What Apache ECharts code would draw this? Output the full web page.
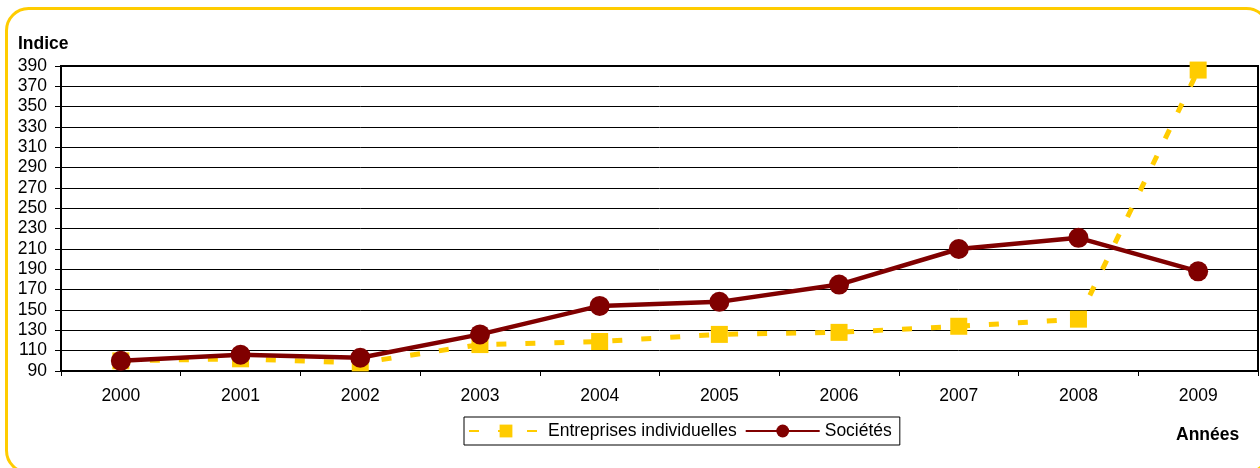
<!DOCTYPE html>
<html>
<head>
<meta charset="utf-8">
<script src="https://cdn.jsdelivr.net/npm/echarts@6/dist/echarts.min.js"></script>
<style>
html,body{margin:0;padding:0;background:#fff;}
#c{width:1260px;height:468px;}
</style>
</head>
<body>
<div id="c"></div>
<script>
const years = ['2000','2001','2002','2003','2004','2005','2006','2007','2008','2009'];
const yTicks = [90,110,130,150,170,190,210,230,250,270,290,310,330,350,370,390];
const entreprises = [100,102,98,116,119,126,128,134,141,386];
const societes = [100,106,103,126,154,158,175,210,221,188];

const FONT = "'Liberation Sans', Arial, sans-serif";
const FS = 17.5;
const chart = echarts.init(document.getElementById('c'), null, {renderer:'canvas'});
chart.setOption({
  animation: false,
  backgroundColor: '#fff',
  textStyle: {fontFamily: FONT},
  grid: {left: 61, right: 2, top: 66, bottom: 97, show: true, borderColor: '#000', borderWidth: 2, containLabel: false},
  legend: {
    left: 464, top: 417,
    itemWidth: 74, itemHeight: 16, itemGap: 8,
    padding: [5, 8, 5, 4],
    borderColor: '#000', borderWidth: 1,
    textStyle: {fontSize: FS, color: '#000', fontFamily: FONT},
    data: ['Entreprises individuelles', 'Sociétés']
  },
  xAxis: {
    type: 'category', data: years, boundaryGap: true,
    axisLine: {lineStyle: {color: '#000', width: 2}},
    axisTick: {show: true, length: 5, lineStyle: {color: '#000', width: 1}},
    axisLabel: {fontSize: FS, color: '#000', margin: 16, fontFamily: FONT},
    splitLine: {show: false}
  },
  yAxis: {
    type: 'value', min: 90, max: 390,
    axisLine: {show: true, lineStyle: {color: '#000', width: 2}},
    axisTick: {show: true, length: 6, customValues: yTicks, lineStyle: {color: '#000', width: 1}},
    axisLabel: {fontSize: FS, color: '#000', margin: 14, customValues: yTicks, fontFamily: FONT},
    splitLine: {show: true, lineStyle: {color: '#000', width: 1}}
  },
  series: [
    {
      name: 'Entreprises individuelles', type: 'line', data: entreprises,
      symbol: 'rect', symbolSize: 17,
      itemStyle: {color: '#FFCC00'},
      lineStyle: {color: '#FFCC00', width: 5, type: [10, 19]},
      z: 2
    },
    {
      name: 'Sociétés', type: 'line', data: societes,
      symbol: 'circle', symbolSize: 20,
      itemStyle: {color: '#800000'},
      lineStyle: {color: '#800000', width: 4.5},
      z: 3
    }
  ],
  graphic: [
    {type: 'rect', shape: {x: 6.5, y: 8.5, width: 1262, height: 464, r: 22}, style: {fill: 'none', stroke: '#FFCC00', lineWidth: 3}, silent: true, z: 0},
    {type: 'text', left: 18, top: 35, style: {text: 'Indice', fontSize: FS, fontWeight: 'bold', fill: '#000', fontFamily: FONT}},
    {type: 'text', left: 1176, top: 426, style: {text: 'Années', fontSize: FS, fontWeight: 'bold', fill: '#000', fontFamily: FONT}}
  ]
});
</script>
</body>
</html>
